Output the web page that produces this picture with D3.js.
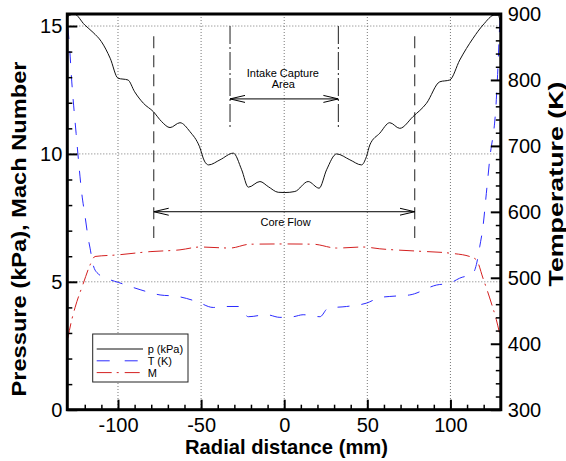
<!DOCTYPE html>
<html>
<head>
<meta charset="utf-8">
<script src="https://cdn.jsdelivr.net/npm/d3@7"></script>
<style>
  body { margin: 0; background: #fff; }
  svg { display: block; }
</style>
</head>
<body>
<div id="chart"></div>
<script>
// [radial distance (mm), pressure (kPa)]
var pressureData = [
  [-130.2, 15.38], [-126.4, 15.47], [-120, 15.04], [-115, 14.75], [-110, 14.39], [-104.7, 13.74],
  [-100, 12.96], [-94, 12.89], [-90, 12.43], [-84.7, 11.98], [-78.7, 11.65], [-73.7, 11.26],
  [-68.7, 11.03], [-62.7, 11.22], [-56.7, 10.87], [-51, 10.29], [-48, 9.72], [-45.5, 9.57],
  [-38.6, 9.77], [-30.6, 10.03], [-25.6, 9.38], [-21.6, 8.70], [-14.6, 8.92], [-9.6, 8.72],
  [-3.6, 8.50], [0.4, 8.49], [6.4, 8.53], [14.4, 8.92], [21, 8.66], [25.5, 9.38], [31.5, 10.0],
  [39.5, 9.77], [46.5, 9.57], [49.5, 9.9], [51.5, 10.35], [57.5, 10.81], [63.5, 11.22],
  [69.5, 11.0], [77.5, 11.46], [85.6, 11.98], [93.6, 12.82], [99.6, 12.89], [105.6, 13.67],
  [113.6, 14.52], [119.6, 15.04], [126.6, 15.43], [128.6, 15.43], [130.2, 15.1]
];

// [radial distance (mm), temperature (K)]
var temperatureData = [
  [-130.2, 880], [-129.3, 855], [-127.8, 797], [-125.2, 719], [-123.8, 679], [-121.8, 628],
  [-119.8, 593], [-117.8, 558], [-116.8, 545], [-115.2, 522], [-112.7, 508], [-104.7, 497],
  [-99.8, 493], [-86.7, 482], [-74.7, 474], [-64.7, 472], [-52.6, 464], [-42.7, 455],
  [-36.7, 456.5], [-27.6, 456.5], [-21.6, 441], [-10.6, 444], [-2.6, 440], [5.4, 441],
  [11.4, 444], [21.5, 441], [26.4, 454], [37.5, 456.5], [49.5, 461.6], [57.5, 470],
  [63.5, 471.7], [75.5, 474], [91.6, 489], [99.6, 492], [105.6, 499.5], [113.6, 507],
  [115.6, 520], [117.6, 547], [119.6, 578], [121.6, 628], [123.6, 679], [127.6, 770],
  [128.6, 820], [129.6, 880], [130.2, 900]
];

// [radial distance (mm), Mach number]
var machData = [
  [-130.2, 2.8], [-127.8, 3.52], [-125.8, 4.0], [-120.8, 4.95], [-116.8, 5.66], [-113.8, 5.99],
  [-100.7, 6.05], [-80.7, 6.18], [-62.7, 6.25], [-50.7, 6.36], [-32.6, 6.32], [-20.6, 6.47],
  [0.4, 6.48], [17.4, 6.47], [31.5, 6.32], [47.5, 6.36], [57.5, 6.29], [80, 6.2], [99.6, 6.12],
  [111.6, 5.99], [115.6, 5.86], [119.6, 5.14], [124.6, 4.17], [127.6, 3.52], [130.2, 2.8]
];

var xTicks = [-100, -50, 0, 50, 100];
var pTicks = [0, 5, 10, 15];
var tTicks = [300, 400, 500, 600, 700, 800, 900];
var legendLabels = ["p (kPa)", "T (K)", "M"];

// annotations in data units (mm, kPa)
var coreFlowEdges = [-78.5, 78.5];
var intakeEdges = [-32.6, 32.6];

var font = "'Liberation Sans', Arial, Helvetica, sans-serif";
var W = 566, H = 461;

var svg = d3.select("#chart").append("svg")
  .attr("width", W)
  .attr("height", H)
  .style("font-family", font);

var x = d3.scaleLinear().domain([-130.5, 130.3]).range([67.3, 500.8]);
var yP = d3.scaleLinear().domain([0, 15.47]).range([409.7, 14]);
var yT = d3.scaleLinear().domain([300, 900]).range([409.7, 14]);

var plotLeft = x.range()[0], plotRight = x.range()[1],
    plotTop = yP.range()[1], plotBottom = yP.range()[0];

// dotted grid
svg.append("g").selectAll("line")
  .data(xTicks)
  .enter().append("line")
  .attr("x1", function(d) { return x(d) }).attr("x2", function(d) { return x(d) })
  .attr("y1", plotTop).attr("y2", plotBottom)
  .attr("stroke", "#777").attr("stroke-width", 1).attr("stroke-dasharray", "1,2");

svg.append("g").selectAll("line")
  .data([5, 10, 15])
  .enter().append("line")
  .attr("y1", function(d) { return yP(d) }).attr("y2", function(d) { return yP(d) })
  .attr("x1", plotLeft).attr("x2", plotRight)
  .attr("stroke", "#777").attr("stroke-width", 1).attr("stroke-dasharray", "1,2");

// arrow marker (open head, tip at the line end)
var defs = svg.append("defs");
defs.append("marker")
  .attr("id", "arrow")
  .attr("viewBox", "0 -5 15 10")
  .attr("refX", 15).attr("refY", 0)
  .attr("markerUnits", "userSpaceOnUse")
  .attr("markerWidth", 15).attr("markerHeight", 10)
  .attr("orient", "auto-start-reverse")
  .append("path")
  .attr("d", "M0,-3.5L15,0L0,3.5")
  .attr("fill", "none").attr("stroke", "#000").attr("stroke-width", 1);

// core flow annotation
svg.append("g").selectAll("line")
  .data(coreFlowEdges)
  .enter().append("line")
  .attr("x1", function(d) { return x(d) }).attr("x2", function(d) { return x(d) })
  .attr("y1", yP(14.6)).attr("y2", yP(6.71))
  .attr("stroke", "#444").attr("stroke-width", 1.2).attr("stroke-dasharray", "12,7");

svg.append("line")
  .attr("x1", x(coreFlowEdges[0])).attr("x2", x(coreFlowEdges[1]))
  .attr("y1", yP(7.74)).attr("y2", yP(7.74))
  .attr("stroke", "#000").attr("stroke-width", 1)
  .attr("marker-start", "url(#arrow)").attr("marker-end", "url(#arrow)");

svg.append("text")
  .attr("x", x(0.8)).attr("y", yP(7.2))
  .attr("text-anchor", "middle")
  .style("font-size", "11px")
  .text("Core Flow");

// intake capture annotation
svg.append("g").selectAll("line")
  .data(intakeEdges)
  .enter().append("line")
  .attr("x1", function(d) { return x(d) }).attr("x2", function(d) { return x(d) })
  .attr("y1", yP(15)).attr("y2", yP(10.95))
  .attr("stroke", "#444").attr("stroke-width", 1.2).attr("stroke-dasharray", "18,3,2,3");

svg.append("line")
  .attr("x1", x(intakeEdges[0])).attr("x2", x(intakeEdges[1]))
  .attr("y1", yP(12.15)).attr("y2", yP(12.15))
  .attr("stroke", "#000").attr("stroke-width", 1)
  .attr("marker-start", "url(#arrow)").attr("marker-end", "url(#arrow)");

svg.append("text")
  .attr("x", x(-0.8)).attr("y", yP(13.0))
  .attr("text-anchor", "middle")
  .style("font-size", "11px")
  .text("Intake Capture");

svg.append("text")
  .attr("x", x(-0.5)).attr("y", yP(12.58))
  .attr("text-anchor", "middle")
  .style("font-size", "11px")
  .text("Area");

// curves
var lineP = d3.line().curve(d3.curveMonotoneX)
  .x(function(d) { return x(d[0]) }).y(function(d) { return yP(d[1]) });
var lineT = d3.line().curve(d3.curveMonotoneX)
  .x(function(d) { return x(d[0]) }).y(function(d) { return yT(d[1]) });

var plot = svg.append("g");
plot.append("path").datum(pressureData)
  .attr("d", lineP).attr("fill", "none")
  .attr("stroke", "#111").attr("stroke-width", 1);
plot.append("path").datum(temperatureData)
  .attr("d", lineT).attr("fill", "none")
  .attr("stroke", "#2b2bff").attr("stroke-width", 1).attr("stroke-dasharray", "12,12");
plot.append("path").datum(machData)
  .attr("d", lineP).attr("fill", "none")
  .attr("stroke", "#d42020").attr("stroke-width", 1).attr("stroke-dasharray", "15,5,2,6");

// axes, ticks pointing inwards
function hyphen(d) { return String(d).replace("\u2212", "-") }

function styleAxis(g) {
  g.select(".domain").remove();
  g.selectAll("line").attr("stroke", "#000").attr("stroke-width", 2);
  g.selectAll("text").style("font-family", font).style("font-size", "20px").attr("fill", "#000");
}
function styleMinor(g) {
  g.select(".domain").remove();
  g.selectAll("line").attr("stroke", "#000").attr("stroke-width", 1.5);
}

svg.append("g")
  .attr("transform", "translate(0," + plotBottom + ")")
  .call(d3.axisBottom(x).tickValues(xTicks).tickSize(-10).tickPadding(8).tickFormat(function(d) { return hyphen(d) }))
  .call(styleAxis);
svg.append("g")
  .attr("transform", "translate(0," + plotBottom + ")")
  .call(d3.axisBottom(x).tickValues(d3.range(-120, 121, 10).filter(function(d) { return d % 50 !== 0 })).tickSize(-5).tickFormat(""))
  .call(styleMinor);

svg.append("g")
  .attr("transform", "translate(" + plotLeft + ",0)")
  .call(d3.axisLeft(yP).tickValues(pTicks).tickSize(-10).tickPadding(5))
  .call(styleAxis);
svg.append("g")
  .attr("transform", "translate(" + plotLeft + ",0)")
  .call(d3.axisLeft(yP).tickValues(d3.range(1, 16, 1).filter(function(d) { return d % 5 !== 0 })).tickSize(-5).tickFormat(""))
  .call(styleMinor);

svg.append("g")
  .attr("transform", "translate(" + plotRight + ",0)")
  .call(d3.axisRight(yT).tickValues(tTicks).tickSize(-10).tickPadding(7))
  .call(styleAxis);
svg.append("g")
  .attr("transform", "translate(" + plotRight + ",0)")
  .call(d3.axisRight(yT).tickValues(d3.range(320, 900, 20).filter(function(d) { return d % 100 !== 0 })).tickSize(-5).tickFormat(""))
  .call(styleMinor);

// frame
svg.append("rect")
  .attr("x", plotLeft).attr("y", plotTop)
  .attr("width", plotRight - plotLeft).attr("height", plotBottom - plotTop)
  .attr("fill", "none").attr("stroke", "#000").attr("stroke-width", 3);

// axis titles
svg.append("text")
  .attr("transform", "translate(26,229) rotate(-90)")
  .attr("text-anchor", "middle")
  .attr("textLength", 335).attr("lengthAdjust", "spacingAndGlyphs")
  .style("font-size", "20px").style("font-weight", "bold")
  .text("Pressure (kPa), Mach Number");

svg.append("text")
  .attr("transform", "translate(563,184) rotate(-90)")
  .attr("text-anchor", "middle")
  .attr("textLength", 205).attr("lengthAdjust", "spacingAndGlyphs")
  .style("font-size", "21px").style("font-weight", "bold")
  .text("Temperature (K)");

svg.append("text")
  .attr("x", 286.5).attr("y", 454)
  .attr("text-anchor", "middle")
  .attr("textLength", 203).attr("lengthAdjust", "spacingAndGlyphs")
  .style("font-size", "21px").style("font-weight", "bold")
  .text("Radial distance (mm)");

// legend
var legend = svg.append("g").attr("transform", "translate(92.7,334)");
legend.append("rect")
  .attr("width", 95.3).attr("height", 48)
  .attr("fill", "#fff").attr("stroke", "#222").attr("stroke-width", 1);

var legendStyles = [
  { color: "#111", dash: null },
  { color: "#2b2bff", dash: "13,15" },
  { color: "#d42020", dash: "15,5,2,6" }
];

var legendRows = legend.selectAll(".row")
  .data(legendLabels)
  .enter().append("g")
  .attr("class", "row")
  .attr("transform", function(d, i) { return "translate(0," + (15 + i * 11.8) + ")" });

legendRows.append("line")
  .attr("x1", 4).attr("x2", 50.3)
  .attr("stroke", function(d, i) { return legendStyles[i].color })
  .attr("stroke-width", 1)
  .attr("stroke-dasharray", function(d, i) { return legendStyles[i].dash });

legendRows.append("text")
  .attr("x", 55).attr("y", 4)
  .style("font-size", "11px")
  .text(function(d) { return d });
</script>
</body>
</html>
